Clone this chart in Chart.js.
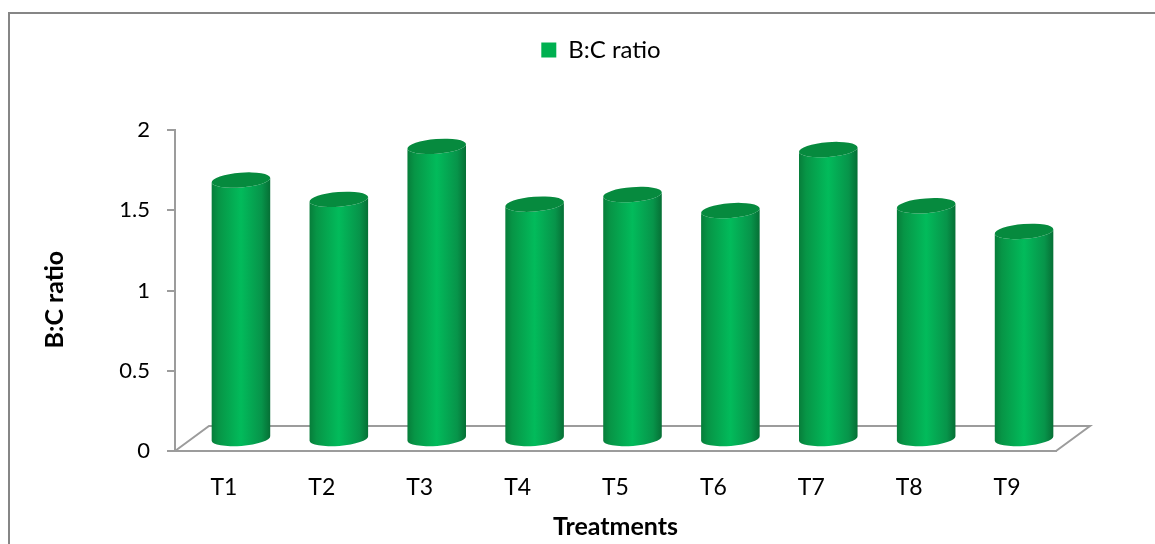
<!DOCTYPE html>
<html lang="en">
  <head>
    <meta charset="UTF-8" />
    <title>B:C ratio</title>
    <style>
      html, body { margin: 0; padding: 0; background: #fff; overflow: hidden; }
      #wrap { position: relative; width: 1155px; height: 544px; }
      #frame { position: absolute; left: 8px; top: 12px; right: 0; bottom: 0; border-left: 2px solid #868686; border-top: 2px solid #868686; }
      canvas { position: absolute; left: 0; top: 0; }
    </style>
  </head>
  <body>
    <div id="wrap">
      <div id="frame"></div>
      <canvas id="myChart" width="1155" height="544"></canvas>
    </div>

    <script src="https://cdn.jsdelivr.net/npm/chart.js"></script>

    <script>
      const categories = ["T1", "T2", "T3", "T4", "T5", "T6", "T7", "T8", "T9"];
      const bcRatio = [1.61, 1.49, 1.82, 1.46, 1.52, 1.42, 1.8, 1.45, 1.29];

      const fontName = "Lato, 'Noto Sans', sans-serif";
      const lineGrey = "#9c9c9c";
      const depthX = 34;
      const depthY = 25;

      function cylinder(ctx, bar) {
        const rx = bar.width / 2;
        const ry = 7.4;
        const tilt = (-4.5 * Math.PI) / 180;
        const x = bar.x + depthX / 2;
        const top = bar.y - depthY / 2;
        const bottom = bar.base - depthY / 2 + 1;

        const g = ctx.createLinearGradient(x - rx, 0, x + rx, 0);
        g.addColorStop(0, "#077d3a");
        g.addColorStop(0.12, "#079546");
        g.addColorStop(0.5, "#02bb5b");
        g.addColorStop(0.85, "#07944a");
        g.addColorStop(1, "#066f35");

        ctx.beginPath();
        ctx.ellipse(x, top, rx, ry, tilt, Math.PI, 0, true);
        ctx.ellipse(x, bottom, rx, ry, tilt, 0, Math.PI, false);
        ctx.closePath();
        ctx.fillStyle = g;
        ctx.fill();

        ctx.beginPath();
        ctx.ellipse(x, top, rx, ry, tilt, 0, Math.PI * 2);
        ctx.fillStyle = "#068a3e";
        ctx.fill();
      }

      const bars3d = {
        id: "bars3d",
        afterLayout(chart) {
          // legend sits right of the canvas centre and well above the plot
          chart.legend.left += 55;
          chart.legend.right += 55;
          chart.legend.top -= 58;
          chart.legend.bottom -= 58;
        },
        beforeDatasetsDraw(chart) {
          // floor of the 3d box
          const { left, right, bottom } = chart.chartArea;
          const ctx = chart.ctx;
          ctx.save();
          ctx.strokeStyle = lineGrey;
          ctx.lineWidth = 2;
          ctx.beginPath();
          ctx.moveTo(left, bottom);
          ctx.lineTo(left + depthX, bottom - depthY);
          ctx.lineTo(right + depthX, bottom - depthY);
          ctx.lineTo(right, bottom);
          ctx.stroke();
          ctx.restore();
        },
        beforeDatasetDraw(chart, args) {
          const ctx = chart.ctx;
          ctx.save();
          args.meta.data.forEach((bar) => cylinder(ctx, bar));
          ctx.restore();
          return false;
        },
      };

      new Chart(document.getElementById("myChart"), {
        type: "bar",
        data: {
          labels: categories,
          datasets: [
            {
              label: "B:C ratio",
              data: bcRatio,
              backgroundColor: "#00b050",
              barPercentage: 0.6,
              categoryPercentage: 1,
            },
          ],
        },
        plugins: [bars3d],
        options: {
          responsive: false,
          animation: false,
          layout: { padding: { left: 36, right: 99, top: 76, bottom: 0 } },
          plugins: {
            tooltip: { enabled: false },
            legend: {
              position: "top",
              labels: {
                boxWidth: 15,
                boxHeight: 15,
                padding: 20,
                color: "#000",
                font: { family: fontName, size: 24 },
              },
            },
          },
          scales: {
            x: {
              grid: { display: false },
              border: { color: lineGrey, width: 2 },
              ticks: { color: "#000", padding: 15, maxRotation: 0, font: { family: fontName, size: 23 } },
              title: {
                display: true,
                text: "Treatments",
                color: "#000",
                padding: { top: 8, bottom: 2 },
                font: { family: fontName, size: 25, weight: "bold" },
              },
              afterFit(scale) { scale.height = 93; },
            },
            y: {
              min: 0,
              max: 2,
              grid: { drawOnChartArea: false, color: lineGrey, lineWidth: 2, tickLength: 8 },
              border: { color: lineGrey, width: 2 },
              ticks: {
                stepSize: 0.5,
                color: "#000",
                padding: 17,
                font: { family: fontName, size: 22 },
                callback: (v) => String(v),
              },
              title: {
                display: true,
                text: "B:C ratio   ",
                color: "#000",
                font: { family: fontName, size: 25, weight: "bold" },
              },
              afterFit(scale) { scale.width = 139; },
            },
          },
        },
      });
    </script>
  </body>
</html>
